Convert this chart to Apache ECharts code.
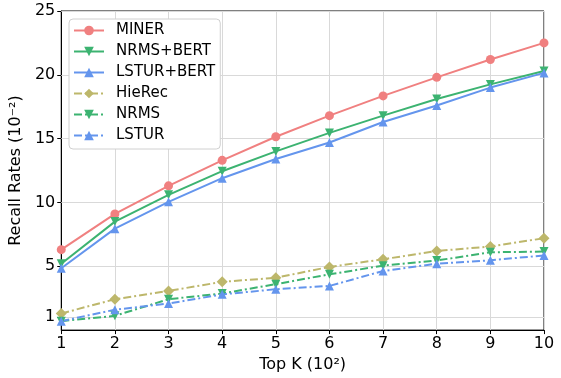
<!DOCTYPE html>
<html><head><meta charset="utf-8">
<script src="https://cdn.jsdelivr.net/npm/echarts@6/dist/echarts.min.js"></script>
<style>html,body{margin:0;padding:0;background:#fff}#c{width:561px;height:378px}</style>
</head><body><div id="c"></div>
<script>
const topK = [1,2,3,4,5,6,7,8,9,10];
const yTicks = [1,5,10,15,20,25];
const miner    = [6.3, 9.1, 11.3, 13.3, 15.15, 16.8, 18.35, 19.8, 21.2, 22.5];
const nrmsBert = [5.2, 8.5, 10.6, 12.45, 14.0, 15.45, 16.8, 18.1, 19.25, 20.3];
const lsturBert= [4.85, 7.95, 10.05, 11.9, 13.4, 14.7, 16.3, 17.6, 19.0, 20.15];
const hierec   = [1.3, 2.42, 3.07, 3.78, 4.1, 4.95, 5.55, 6.2, 6.55, 7.2];
const nrms     = [0.7, 1.12, 2.42, 2.87, 3.6, 4.37, 5.05, 5.45, 6.1, 6.15];
const lstur    = [0.7, 1.6, 2.08, 2.8, 3.2, 3.46, 4.63, 5.2, 5.47, 5.85];

const FONT = 'DejaVu Sans';
function pts(arr){ return topK.map((k,i)=>[k,arr[i]]); }
function mk(name, data, color, symbol, dashed){
  return {
    name, type:'line', data:pts(data), symbol, symbolSize: symbol==='diamond'?11:9,
    itemStyle:{color},
    lineStyle:{color, width:2, type: dashed ? [8,3,2,3] : 'solid'},
    emphasis:{disabled:true}, animation:false, z:3
  };
}
const series = [
  mk('MINER', miner, '#F08080', 'circle', false),
  mk('NRMS+BERT', nrmsBert, '#3CB371', 'path://M0,0 L10,0 L5,9 Z', false),
  mk('LSTUR+BERT', lsturBert, '#6495ED', 'triangle', false),
  mk('HieRec', hierec, '#BDB76B', 'diamond', true),
  mk('NRMS', nrms, '#3CB371', 'path://M0,0 L10,0 L5,9 Z', true),
  mk('LSTUR', lstur, '#6495ED', 'triangle', true)
];
series.push({
  type:'line', data:[], silent:true, z:1,
  markLine:{silent:true, symbol:'none', label:{show:false}, z:1,
    lineStyle:{color:'#d9d9d9', width:1, type:'solid'},
    data: yTicks.map(v=>({yAxis:v}))}
});
const chart = echarts.init(document.getElementById('c'), null, {renderer:'canvas'});
chart.setOption({
  animation:false,
  backgroundColor:'#fff',
  grid:{left:61, right:17, top:11, bottom:47, show:true, borderColor:'#000', borderWidth:1, backgroundColor:'transparent'},
  legend:{
    data:['MINER','NRMS+BERT','LSTUR+BERT','HieRec','NRMS','LSTUR'],
    orient:'vertical', left:69, top:19, itemWidth:30, itemHeight:12, itemGap:6, z:10,
    padding:[4,5,6,4],
    formatter: n => '{p|}' + n,
    backgroundColor:'#ffffff', borderColor:'#d0d0d0', borderWidth:1, borderRadius:4,
    textStyle:{fontFamily:FONT, fontSize:15, color:'#000', rich:{p:{width:7}}}
  },
  xAxis:{
    type:'value', min:1, max:10, interval:1,
    name:'Top K (10²)', nameLocation:'middle', nameGap:26,
    nameTextStyle:{fontFamily:FONT, fontSize:16, color:'#000'},
    axisLine:{show:true, lineStyle:{color:'#000'}},
    axisTick:{show:true, length:4, lineStyle:{color:'#000'}},
    axisLabel:{fontFamily:FONT, fontSize:16, color:'#000', margin:6},
    splitLine:{show:true, lineStyle:{color:'#d9d9d9'}}
  },
  yAxis:{
    type:'value', min:0, max:25,
    name:'Recall Rates (10⁻²)', nameLocation:'middle', nameGap:31,
    nameTextStyle:{fontFamily:FONT, fontSize:16, color:'#000'},
    axisLine:{show:true, lineStyle:{color:'#000'}},
    axisTick:{show:true, length:4, lineStyle:{color:'#000'}, customValues:yTicks},
    axisLabel:{fontFamily:FONT, fontSize:16, color:'#000', margin:6, customValues:yTicks},
    splitLine:{show:false}
  },
  series
});
</script></body></html>
